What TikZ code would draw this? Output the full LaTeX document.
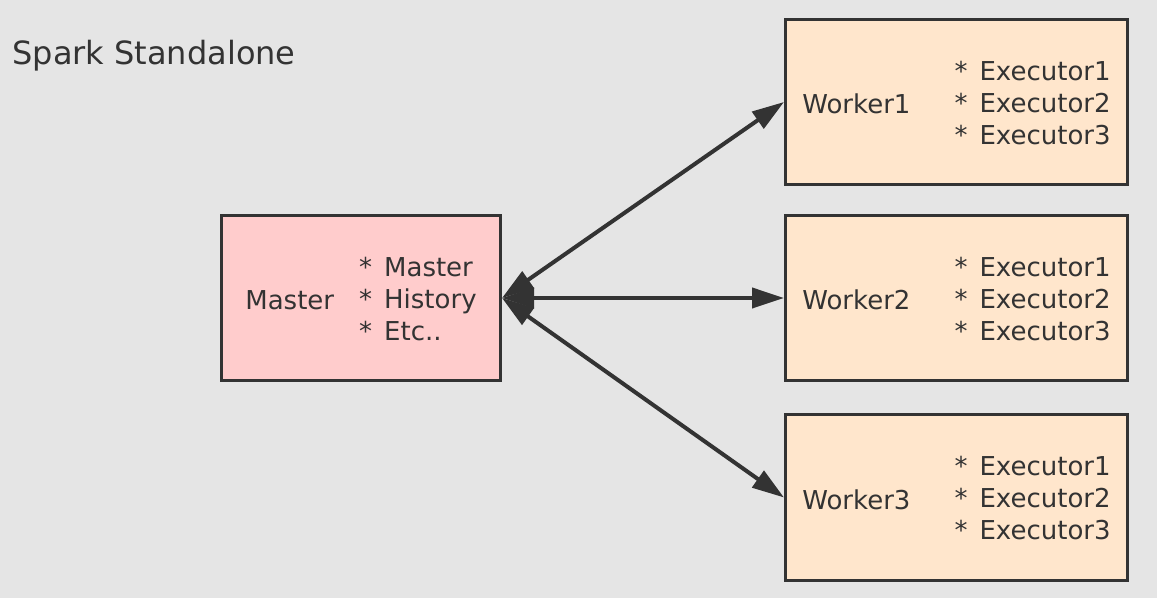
\documentclass[tikz,border=0pt]{standalone}
\usepackage{fontspec}
\setmainfont{DejaVu Sans}
\usetikzlibrary{arrows.meta}
\definecolor{bg1}{RGB}{229,229,229}
\definecolor{line1}{RGB}{51,51,51}
\definecolor{pink1}{RGB}{255,204,204}
\definecolor{orange1}{RGB}{255,230,204}
\newcommand{\itm}{{*}\hspace{6pt}}
\tikzstyle{block} = [rectangle, draw=line1, line width=1.5pt, text=line1, text centered, minimum height=82.5pt, text height=29pt, text depth=19pt, font=\fontsize{13}{16}\selectfont]
\tikzstyle{master} = [block, fill=pink1, minimum width=139.5pt]
\tikzstyle{worker} = [block, fill=orange1, minimum width=171pt]
\tikzstyle{link} = [draw=line1, line width=2pt, >={Triangle[length=16pt,width=10pt]}, <->]

\begin{document}
\begin{tikzpicture}[x=0.5pt, y=-0.5pt, node distance=297.75pt, auto]
	\fill [bg1] (0,0) rectangle (1157,598);
	\useasboundingbox (0,0) rectangle (1157,598);
	% Title
	\node [anchor=base west, inner sep=0pt, text=line1, font=\fontsize{16}{19}\selectfont] (T01) at (12,65) {Spark Standalone};

	% Master and workers
	\node [master] (M01) at (361,298) {\raisebox{-1pt}{Master}\hspace{12.5pt}\begin{tabular}{@{}l@{}}\itm Master\\\itm History\\\itm Etc..\end{tabular}\hspace{4.5pt}};
	\node [worker, right of=M01] (W02) {\raisebox{-1pt}{Worker2}\hspace{22pt}\begin{tabular}{@{}l@{}}\itm Executor1\\\itm Executor2\\\itm Executor3\end{tabular}};
	\node [worker, above of=W02, node distance=98pt] (W01) {\raisebox{-1pt}{Worker1}\hspace{22pt}\begin{tabular}{@{}l@{}}\itm Executor1\\\itm Executor2\\\itm Executor3\end{tabular}};
	\node [worker, below of=W02, node distance=99.75pt] (W03) {\raisebox{-1pt}{Worker3}\hspace{22pt}\begin{tabular}{@{}l@{}}\itm Executor1\\\itm Executor2\\\itm Executor3\end{tabular}};

	\draw [link] (M01.east) to (W01.west);
	\draw [link] (M01.east) to (W02.west);
	\draw [link] (M01.east) to (W03.west);
\end{tikzpicture}
\end{document}
